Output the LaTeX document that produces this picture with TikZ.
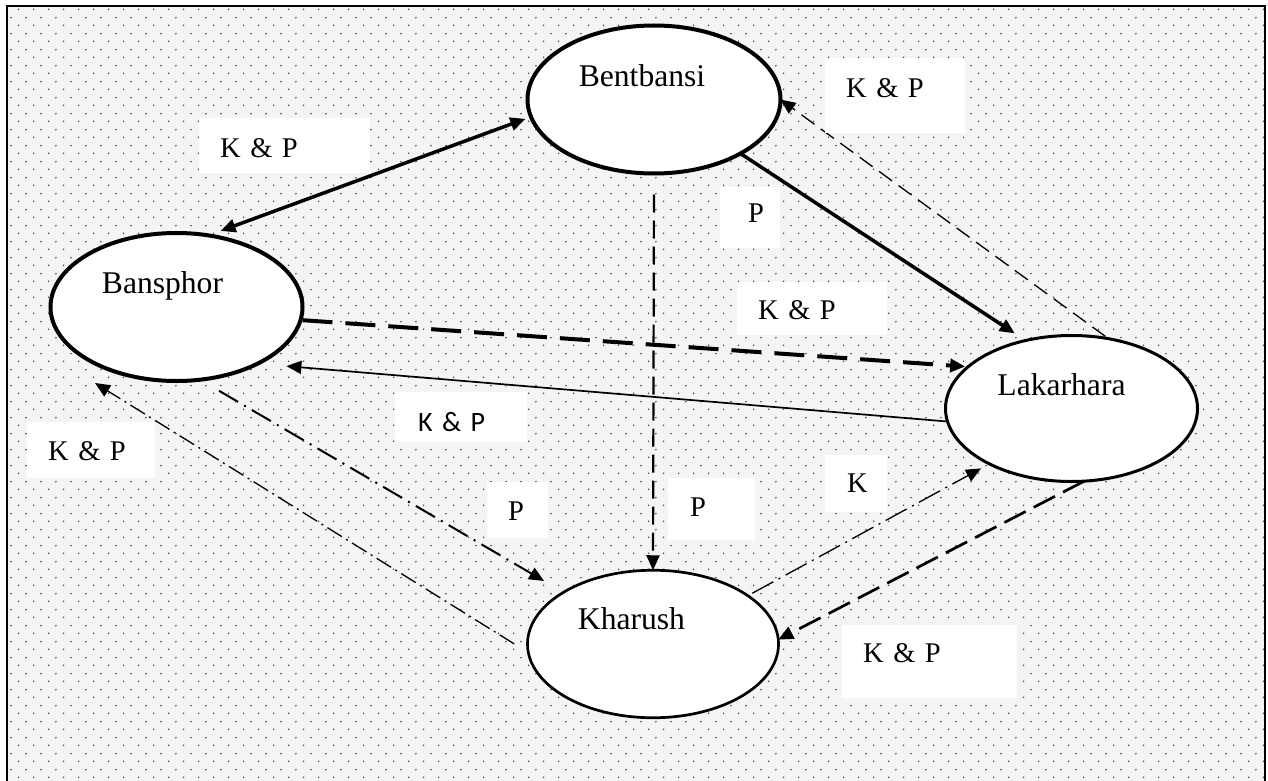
\documentclass[tikz,border=0pt]{standalone}
\usepackage{fontspec}
\setmainfont{Liberation Serif}
\newfontfamily\labelsans{Carlito}
\usetikzlibrary{shapes.geometric, arrows.meta, patterns}

% staggered dot screen used as the page background
\pgfdeclarepatternformonly{bgdots}{\pgfqpoint{0pt}{0pt}}{\pgfqpoint{15.3pt}{15.5pt}}{\pgfqpoint{15.3pt}{15.5pt}}{%
  \pgfpathcircle{\pgfqpoint{3.8pt}{3.9pt}}{0.85pt}%
  \pgfpathcircle{\pgfqpoint{11.45pt}{11.65pt}}{0.85pt}%
  \pgfusepath{fill}}

\definecolor{dotgray}{HTML}{333333}
\definecolor{screen}{HTML}{F4F4F4}

\tikzset{
  place/.style={ellipse, draw, fill=white, inner sep=0pt, outer sep=0pt},
  placename/.style={font=\fontsize{31.6}{38}\selectfont, inner sep=0pt, anchor=base},
  lbl/.style n args={3}{fill=white, anchor=north west, inner sep=0pt,
    minimum width=#1, minimum height=#2, text width=#1, align=left,
    execute at begin node={\noindent\hspace*{#3}},
    font=\fontsize{28.5}{32}\selectfont},
  tip/.style={-{Triangle[length=15pt,width=13pt]}},
  heavy/.style={line width=3.5pt},
  heavydash/.style={line width=4pt, dash pattern=on 30pt off 13pt},
  middash/.style={line width=2.2pt, dash pattern=on 18pt off 8pt},
  lowdash/.style={line width=2.7pt, dash pattern=on 24pt off 9pt},
  finedash/.style={line width=1.3pt, dash pattern=on 16pt off 8pt},
  dashdotmid/.style={line width=2pt, dash pattern=on 22pt off 7pt on 2pt off 7pt},
  dashdotfine/.style={line width=1.3pt, dash pattern=on 17pt off 5pt on 2pt off 5pt},
  dashdotlong/.style={line width=1.3pt, dash pattern=on 24pt off 6pt on 2pt off 6pt},
  thinline/.style={line width=1.7pt},
}

\begin{document}
\begin{tikzpicture}[x=1pt,y=-1pt]
\useasboundingbox (0,0) rectangle (1268,781);

% dotted background and frame
\begin{scope}
  \clip (0,0) rectangle (1268,781);
  \fill[screen] (7,6) rectangle (1265,800);
  \fill[pattern=bgdots, pattern color=dotgray] (7,6) rectangle (1265,800);
  \draw[line width=2pt] (7,6) rectangle (1265,800);
\end{scope}

% villages
\node[place, line width=4pt, minimum width=253pt, minimum height=148pt] (bent) at (654,99.5) {};
\node[place, line width=4pt, minimum width=252pt, minimum height=148pt] (bans) at (176.5,307) {};
\node[place, line width=3pt, minimum width=252pt, minimum height=146pt] (lak) at (1071.5,408.5) {};
\node[place, line width=2.7pt, minimum width=251pt, minimum height=147.5pt] (khar) at (653,644) {};

\node[placename] (bent-name) at (642,87) {Bentbansi};
\node[placename] (bans-name) at (162.5,293) {Bansphor};
\node[placename] (lak-name) at (1061.5,395) {Lakarhara};
\node[placename] (khar-name) at (631.5,629) {Kharush};

% free end of the Kharush--Bansphor link
\coordinate (bans-lowleft) at (95,383);

% links
\draw[heavy, {Triangle[length=15pt,width=13pt]}-{Triangle[length=15pt,width=13pt]},
      shorten <=13pt, shorten >=6pt] (bans.66) -- (bent.188);
\draw[heavy, tip, shorten >=13pt] (bent.-32) -- (lak.124);
\draw[finedash, tip, shorten <=4pt] (lak.62.5) -- (bent.-0.5);
\draw[middash, tip, shorten <=21pt] (bent.south) -- (khar.north);
\draw[heavydash, tip, shorten <=2pt, shorten >=3pt] (bans.-6.7) -- (lak.158.4);
\draw[thinline, tip, shorten >=29pt] (lak.186.4) -- (bans.-35);
\draw[dashdotmid, tip, shorten <=22pt, shorten >=22.5pt] (bans.-72.7) -- (khar.150.6);
\draw[dashdotfine, tip, shorten <=16.7pt] (khar.184.5) -- (bans-lowleft);
\draw[dashdotlong, tip, shorten <=5pt, shorten >=9.5pt] (khar.27) -- (lak.214.4);
\draw[lowdash, tip] (lak.-80.8) -- (khar.2.7);

% flow labels
\node[lbl={171pt}{55pt}{21pt}, text height=22.9pt, text depth=0pt] (lab-a) at (199,118) {K \& P};
\node[lbl={140pt}{75pt}{21pt}, text height=18.9pt, text depth=16pt] (lab-c) at (825,58) {K \& P};
\node[lbl={60pt}{61pt}{28pt}, text height=18.9pt, text depth=10pt] (lab-b) at (720,187) {P};
\node[lbl={150pt}{53pt}{21pt}, text height=21.9pt, text depth=0pt] (lab-e) at (737,282) {K \& P};
\node[lbl={132pt}{50pt}{23pt}, text height=28pt, text depth=0pt,
      font=\labelsans\fontsize{28}{32}\selectfont] (lab-f) at (395,392) {K \& P};
\node[lbl={128pt}{56pt}{21pt}, text height=20.9pt, text depth=0pt] (lab-h) at (27,422) {K \& P};
\node[lbl={61pt}{56pt}{21pt}, text height=20.9pt, text depth=0pt] (lab-g) at (487,482) {P};
\node[lbl={87pt}{62pt}{22pt}, text height=18.9pt, text depth=4pt] (lab-d) at (668,478) {P};
\node[lbl={62pt}{57pt}{22pt}, text height=18.9pt, text depth=1pt] (lab-i) at (825,455) {K};
\node[lbl={175pt}{73pt}{21pt}, text height=18.9pt, text depth=17pt] (lab-j) at (842,625) {K \& P};

\end{tikzpicture}
\end{document}
